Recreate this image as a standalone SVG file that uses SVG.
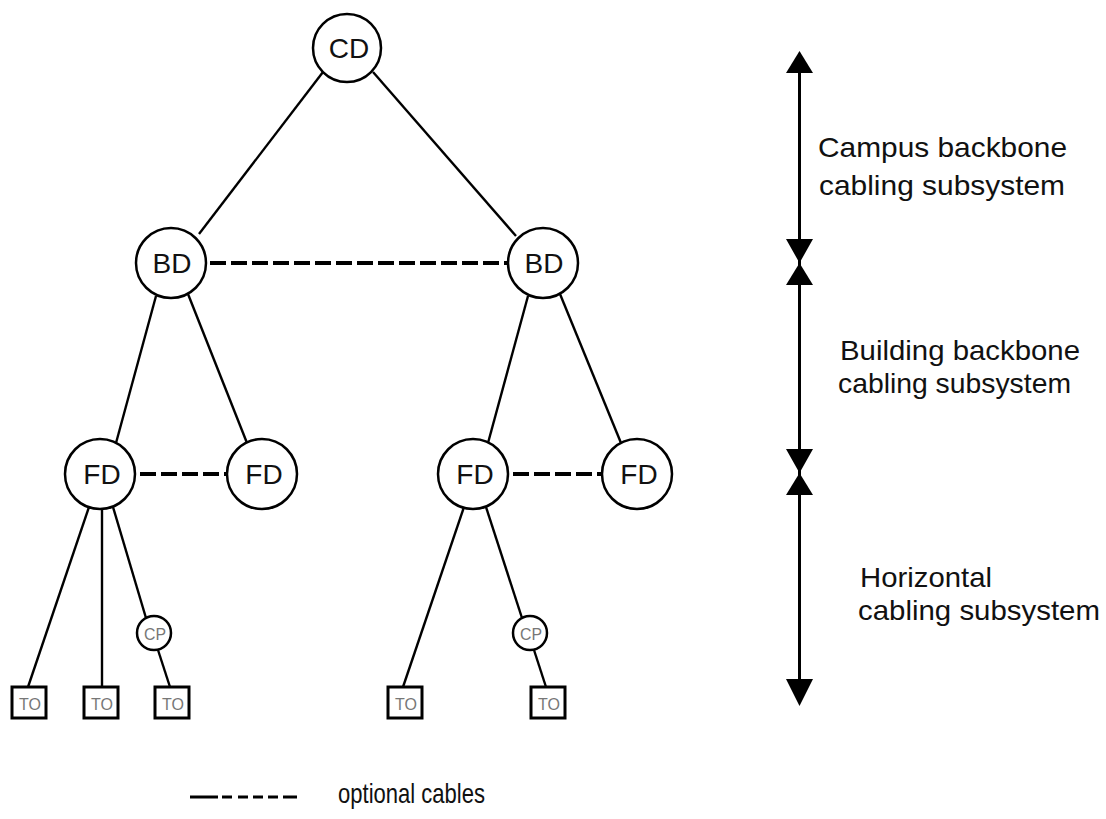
<svg xmlns="http://www.w3.org/2000/svg" width="1106" height="819" viewBox="0 0 1106 819">
<style>
.node circle{fill:#fff;stroke:#000;stroke-width:2.5}
.node rect{fill:#fff;stroke:#000;stroke-width:3}
.big{font-family:"Liberation Sans",Arial,sans-serif;font-size:28px;fill:#111;text-anchor:middle}
.small{font-family:"Liberation Sans",Arial,sans-serif;font-size:17px;fill:#777;text-anchor:middle}
.lbl{font-family:"Liberation Sans",Arial,sans-serif;font-size:28px;fill:#111}
.ln{stroke:#000;stroke-width:2.4;fill:none}
.dash{stroke:#000;stroke-width:4;stroke-dasharray:16 5;fill:none}
</style>
<rect width="1106" height="819" fill="#fff"/>
<g id="connectors">
<line class="ln" x1="323" y1="72" x2="199" y2="234"/>
<line class="ln" x1="373" y1="72" x2="516" y2="236"/>
<line class="ln" x1="156" y1="296" x2="116" y2="443"/>
<line class="ln" x1="188" y1="294" x2="247" y2="443"/>
<line class="ln" x1="528" y1="296" x2="488" y2="443"/>
<line class="ln" x1="560" y1="294" x2="621" y2="443"/>
<line class="ln" x1="89" y1="507" x2="28" y2="687"/>
<line class="ln" x1="102" y1="509" x2="102" y2="687"/>
<line class="ln" x1="113" y1="507" x2="146" y2="618"/>
<line class="ln" x1="158" y1="650" x2="170" y2="687"/>
<line class="ln" x1="464" y1="507" x2="403" y2="687"/>
<line class="ln" x1="486" y1="507" x2="522" y2="618"/>
<line class="ln" x1="534" y1="650" x2="546" y2="687"/>
<line class="dash" x1="210" y1="263" x2="508" y2="263"/>
<line class="dash" x1="140" y1="474" x2="227" y2="474" stroke-dasharray="14 7"/>
<line class="dash" x1="513" y1="474" x2="602" y2="474" stroke-dasharray="14 7"/>
</g>
<g id="node-CD" class="node"><circle cx="347" cy="48" r="34"/><text class="big" x="349" y="58">CD</text></g>
<g id="node-BD1" class="node"><circle cx="171" cy="263" r="35"/><text class="big" x="172" y="273">BD</text></g>
<g id="node-BD2" class="node"><circle cx="543" cy="263" r="35"/><text class="big" x="544" y="273">BD</text></g>
<g id="node-FD1" class="node"><circle cx="100" cy="474" r="35"/><text class="big" x="102" y="484">FD</text></g>
<g id="node-FD2" class="node"><circle cx="262" cy="474" r="35"/><text class="big" x="264" y="484">FD</text></g>
<g id="node-FD3" class="node"><circle cx="473" cy="474" r="35"/><text class="big" x="475" y="484">FD</text></g>
<g id="node-FD4" class="node"><circle cx="637" cy="474" r="35"/><text class="big" x="639" y="484">FD</text></g>
<g id="node-CP1" class="node"><circle cx="154" cy="633" r="17"/><text class="small" x="155" y="640" textLength="22" lengthAdjust="spacingAndGlyphs">CP</text></g>
<g id="node-CP2" class="node"><circle cx="530" cy="633" r="17"/><text class="small" x="531" y="640" textLength="22" lengthAdjust="spacingAndGlyphs">CP</text></g>
<g id="node-TO1" class="node"><rect x="12" y="687" width="34" height="31"/><text class="small" x="30" y="710" textLength="22" lengthAdjust="spacingAndGlyphs">TO</text></g>
<g id="node-TO2" class="node"><rect x="84" y="687" width="34" height="31"/><text class="small" x="102" y="710" textLength="22" lengthAdjust="spacingAndGlyphs">TO</text></g>
<g id="node-TO3" class="node"><rect x="155" y="687" width="34" height="31"/><text class="small" x="173" y="710" textLength="22" lengthAdjust="spacingAndGlyphs">TO</text></g>
<g id="node-TO4" class="node"><rect x="388" y="687" width="34" height="31"/><text class="small" x="406" y="710" textLength="22" lengthAdjust="spacingAndGlyphs">TO</text></g>
<g id="node-TO5" class="node"><rect x="531" y="687" width="34" height="31"/><text class="small" x="549" y="710" textLength="22" lengthAdjust="spacingAndGlyphs">TO</text></g>
<g id="scale">
<line x1="799.5" y1="60" x2="799.5" y2="700" stroke="#000" stroke-width="3"/>
<polygon points="799.5,51 813,73 786,73" fill="#000"/>
<polygon points="786,239 813,239 799.5,263" fill="#000"/>
<polygon points="799.5,263 813,285 786,285" fill="#000"/>
<polygon points="786,449 813,449 799.5,473" fill="#000"/>
<polygon points="799.5,473 813,495 786,495" fill="#000"/>
<polygon points="786,679 813,679 799.5,706" fill="#000"/>
<text class="lbl" x="818" y="157" textLength="249" lengthAdjust="spacingAndGlyphs">Campus backbone</text>
<text class="lbl" x="819" y="195" textLength="246" lengthAdjust="spacingAndGlyphs">cabling subsystem</text>
<text class="lbl" x="840" y="360" textLength="240" lengthAdjust="spacingAndGlyphs">Building backbone</text>
<text class="lbl" x="838" y="393" textLength="233" lengthAdjust="spacingAndGlyphs">cabling subsystem</text>
<text class="lbl" x="860" y="587" textLength="132" lengthAdjust="spacingAndGlyphs">Horizontal</text>
<text class="lbl" x="858" y="620" textLength="242" lengthAdjust="spacingAndGlyphs">cabling subsystem</text>
</g>
<g id="legend">
<line x1="190" y1="797" x2="297" y2="797" stroke="#000" stroke-width="3" stroke-dasharray="28 4 10 6 10 5 10 5 10 5 15 0"/>
<text class="lbl" x="338" y="803" textLength="147" lengthAdjust="spacingAndGlyphs">optional cables</text>
</g>
</svg>
